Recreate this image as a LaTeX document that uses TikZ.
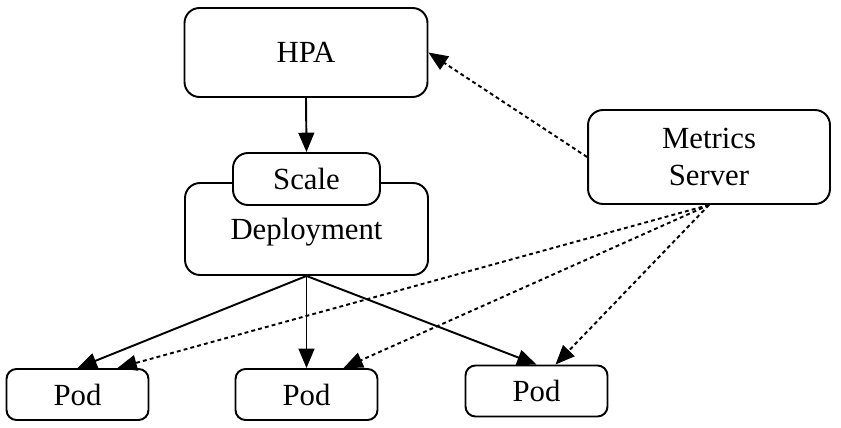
\documentclass[tikz,border=0pt]{standalone}
\usepackage{fontspec}
\setmainfont{Liberation Serif}
\usetikzlibrary{arrows.meta, positioning}

\begin{document}
\begin{tikzpicture}[x=0.02cm, y=-0.02cm,
    box/.style={draw, line width=1.1pt, rounded corners=0.3cm, align=center,
        font=\fontsize{17.5}{21.5}\selectfont},
    podbox/.style={box, rounded corners=0.2cm, minimum width=2.84cm, minimum height=1.02cm},
    flow/.style={-{Triangle[length=11pt,width=9pt]}, line width=1.1pt},
    watch/.style={flow, dash pattern=on 2.2pt off 1.8pt}]
    \useasboundingbox (0,0) rectangle (841,428);

    % Control plane
    \node[box, minimum width=4.86cm, minimum height=1.78cm] (hpa) at (306,52.5) {HPA};
    \node[box, minimum width=4.86cm, minimum height=1.84cm, text depth=0pt] (deploy) at (306.5,229) {Deployment};
    \node[box, fill=white, minimum width=2.94cm, minimum height=1.04cm] (scale) at (306.5,179) {Scale};
    \node[box, minimum width=4.84cm, minimum height=1.88cm] (metrics) at (709,157) {Metrics\\Server};

    % Pods
    \node[podbox] (pod1) at (77.5,394.5) {Pod};
    \node[podbox] (pod2) at (306.5,394.5) {Pod};
    \node[podbox] (pod3) at (536.5,391) {Pod};

    % Scaling
    \draw[flow] (hpa.south) -- (scale.north);
    \foreach \p in {pod1,pod2,pod3}
        \draw[flow] (deploy.south) -- (\p.north);

    % Metrics
    \draw[watch] (metrics.west) -- (hpa.east);
    \foreach \p/\s in {pod1/0.8cm, pod2/0.74cm, pod3/0.38cm}
        \draw[watch] (metrics.south) -- ([xshift=\s]\p.north);
\end{tikzpicture}
\end{document}
